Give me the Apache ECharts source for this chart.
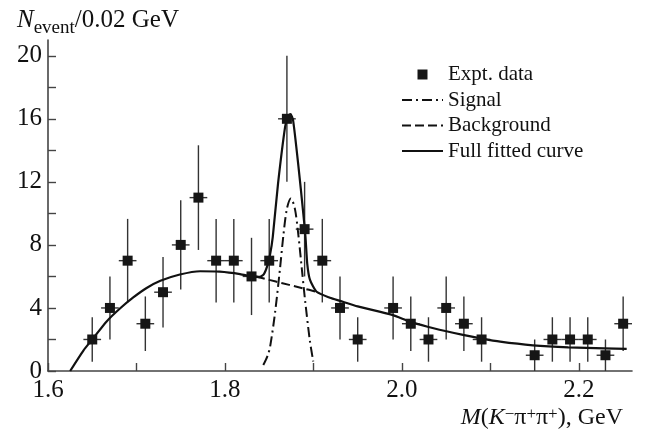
<!DOCTYPE html>
<html><head><meta charset="utf-8">
<script src="https://cdn.jsdelivr.net/npm/echarts@6/dist/echarts.min.js"></script>
<style>html,body{margin:0;padding:0;background:#fff}#c{width:646px;height:434px}</style>
</head><body><div id="c"></div>
<script>
// ---- data ----
const massBins = [1.65,1.67,1.69,1.71,1.73,1.75,1.77,1.79,1.81,1.83,1.85,1.87,1.89,1.91,1.93,1.95,1.99,2.01,2.03,2.05,2.07,2.09,2.15,2.17,2.19,2.21,2.23,2.25];
const counts   = [2,4,7,3,5,8,11,7,7,6,7,16,9,7,4,2,4,3,2,4,3,2,1,2,2,2,1,3];
const errors   = [1.41,2,2.65,1.73,2.24,2.83,3.32,2.65,2.65,2.45,2.65,4,3,2.65,2,1.41,2,1.73,1.41,2,1.73,1.41,1,1.41,1.41,1.41,1,1.73];
const binHalfWidth = 0.01;

const fullCurve = [
  [1.625,0],[1.640,1.3],[1.651,2.07],[1.666,3.13],[1.681,3.95],[1.696,4.65],[1.711,5.25],[1.727,5.72],
  [1.749,6.12],[1.772,6.33],[1.794,6.3],[1.817,6.15],[1.830,6.0],[1.839,5.95],[1.844,6.15],[1.848,6.7],
  [1.851,7.4],[1.854,8.5],[1.860,11.9],[1.868,15.5],[1.8715,16.2],[1.874,16.3],[1.877,15.9],[1.883,13.0],
  [1.8885,10.0],[1.891,8.5],[1.893,6.8],[1.896,5.8],[1.9036,5.03],[1.9186,4.65],[1.930,4.45],[1.950,4.1],
  [1.989,3.56],[2.009,3.13],[2.029,2.81],[2.049,2.54],[2.069,2.29],[2.089,2.07],[2.111,1.86],[2.148,1.63],
  [2.188,1.50],[2.229,1.44],[2.254,1.40]
];
const signalCurve = [
  [1.8433,0.38],[1.848,0.95],[1.851,1.54],[1.8565,3.66],[1.862,6.4],[1.866,8.6],[1.870,10.3],[1.8745,10.95],
  [1.879,10.3],[1.883,8.6],[1.887,6.4],[1.8905,4.5],[1.896,1.9],[1.8998,0.6]
];
const backgroundCurve = [
  [1.835,6.0],[1.850,5.78],[1.865,5.57],[1.880,5.36],[1.895,5.15],[1.905,5.0]
];
const xTicks  = [1.6,1.7,1.8,1.9,2.0,2.1,2.2];
const xLabels = [1.6,1.8,2.0,2.2];
const yTicks  = [0,2,4,6,8,10,12,14,16,18,20];
const yLabels = [0,4,8,12,16,20];

// ---- chart ----
const FONT = 'Liberation Serif';
const INK = '#111';
const chart = echarts.init(document.getElementById('c'), null, {renderer: 'canvas'});
const errData = massBins.map((m, i) => [m, counts[i], errors[i]]);
const ptsData = massBins.map((m, i) => [m, counts[i]]);
const base = {fontFamily: FONT, color: INK, fontWeight: 'normal'};

chart.setOption({
  animation: false,
  backgroundColor: '#fff',
  textStyle: {fontFamily: FONT, color: INK},
  title: [
    {
      left: 12, top: 3,
      text: '{n|N}{s|event}{t|/0.02 GeV}',
      textStyle: {
        fontWeight: 'normal',
        rich: {
          n: Object.assign({}, base, {fontSize: 25, fontStyle: 'italic', lineHeight: 26, verticalAlign: 'top'}),
          s: Object.assign({}, base, {fontSize: 19, lineHeight: 19, verticalAlign: 'top', padding: [11, 0, 0, 0]}),
          t: Object.assign({}, base, {fontSize: 25, lineHeight: 26, verticalAlign: 'top'})
        }
      }
    },
    {
      right: 18, top: 401,
      text: '{i|M}{t|(}{i|K}{p|−}{t|π}{p|+}{t|π}{p|+}{t|), GeV}',
      textStyle: {
        fontWeight: 'normal',
        rich: {
          i: Object.assign({}, base, {fontSize: 24, fontStyle: 'italic', lineHeight: 26, verticalAlign: 'top'}),
          t: Object.assign({}, base, {fontSize: 24, lineHeight: 26, verticalAlign: 'top'}),
          p: Object.assign({}, base, {fontSize: 17, lineHeight: 17, verticalAlign: 'top', padding: [0, 0, 0, 0]})
        }
      }
    }
  ],
  legend: {
    orient: 'vertical',
    left: 396, top: 59,
    itemWidth: 41, itemHeight: 10, itemGap: 4.5,
    symbolKeepAspect: true,
    data: [
      {name: 'Expt. data', icon: 'path://M0,0H10V10H0Z'},
      {name: 'Signal', itemStyle: {opacity: 0}},
      {name: 'Background', itemStyle: {opacity: 0}},
      {name: 'Full fitted curve', itemStyle: {opacity: 0}}
    ],
    textStyle: {fontFamily: FONT, fontSize: 21, color: INK, lineHeight: 21},
    selectedMode: false
  },
  grid: {left: 48, right: 14, top: 40, bottom: 63, containLabel: false},
  xAxis: {
    type: 'value', min: 1.6, max: 2.26, interval: 0.1,
    axisLine: {lineStyle: {color: '#444', width: 1.6}},
    axisTick: {inside: true, length: 8, lineStyle: {color: '#444', width: 1.4}, customValues: xTicks},
    axisLabel: {customValues: xLabels, formatter: v => v.toFixed(1), fontFamily: FONT, fontSize: 25, color: INK, margin: 7},
    splitLine: {show: false}
  },
  yAxis: {
    type: 'value', min: 0, max: 21, interval: 2,
    axisLine: {show: true, lineStyle: {color: '#444', width: 1.6}},
    axisTick: {show: true, inside: true, length: 8, lineStyle: {color: '#444', width: 1.4}, customValues: yTicks},
    axisLabel: {customValues: yLabels, formatter: v => String(v), fontFamily: FONT, fontSize: 25, color: INK, margin: 6},
    splitLine: {show: false}
  },
  series: [
    {
      type: 'custom', name: 'errors', z: 2,
      data: errData,
      encode: {x: 0, y: 1},
      renderItem: function (params, api) {
        const x = api.value(0), y = api.value(1), e = api.value(2);
        const top = api.coord([x, y + e]);
        const bot = api.coord([x, Math.max(y - e, 0)]);
        const l = api.coord([x - binHalfWidth, y]);
        const r = api.coord([x + binHalfWidth, y]);
        const st = {stroke: '#333', lineWidth: 1.4};
        return {type: 'group', children: [
          {type: 'line', shape: {x1: top[0], y1: top[1], x2: bot[0], y2: bot[1]}, style: st},
          {type: 'line', shape: {x1: l[0], y1: l[1], x2: r[0], y2: r[1]}, style: st}
        ]};
      }
    },
    {
      type: 'line', name: 'Background', z: 3, data: backgroundCurve, smooth: 0.2,
      symbol: 'none', showSymbol: false,
      lineStyle: {color: INK, width: 2, type: [9, 4]}, itemStyle: {color: INK}
    },
    {
      type: 'line', name: 'Signal', z: 3, data: signalCurve, smooth: 0.3,
      symbol: 'none', showSymbol: false,
      lineStyle: {color: INK, width: 2, type: [10, 4, 2, 4]}, itemStyle: {color: INK}
    },
    {
      type: 'line', name: 'Full fitted curve', z: 4, data: fullCurve, smooth: 0.2,
      symbol: 'none', showSymbol: false,
      lineStyle: {color: INK, width: 2.2}, itemStyle: {color: INK}
    },
    {
      type: 'scatter', name: 'Expt. data', z: 5, data: ptsData,
      symbol: 'rect', symbolSize: 10,
      itemStyle: {color: '#161616', opacity: 1}
    }
  ]
});
</script>
</body></html>
